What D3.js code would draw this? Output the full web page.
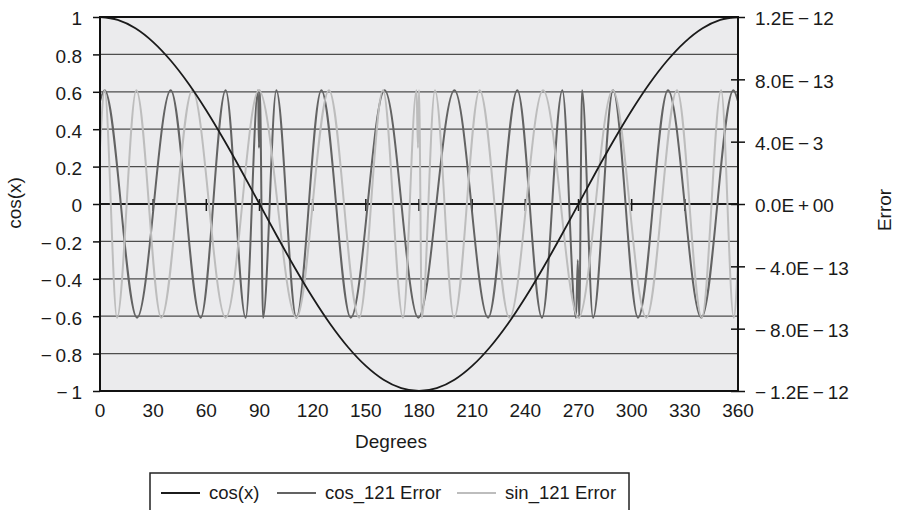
<!DOCTYPE html>
<html>
<head>
<meta charset="utf-8">
<script src="https://cdn.jsdelivr.net/npm/d3@7/dist/d3.min.js"></script>
<style>
  body { margin: 0; background: #fff; }
  svg { display: block; font-family: 'Liberation Sans', Arial, sans-serif; }
</style>
</head>
<body>
<div class="chart-container"></div>
<script>
// cos(x), read every 10 degrees
var cosDeg = [0, 10, 20, 30, 40, 50, 60, 70, 80, 90, 100, 110, 120, 130, 140, 150, 160, 170, 180,
  190, 200, 210, 220, 230, 240, 250, 260, 270, 280, 290, 300, 310, 320, 330, 340, 350, 360];
var cosVal = [1, 0.985, 0.94, 0.866, 0.766, 0.643, 0.5, 0.342, 0.174, 0, -0.174, -0.342, -0.5, -0.643,
  -0.766, -0.866, -0.94, -0.985, -1, -0.985, -0.94, -0.866, -0.766, -0.643, -0.5, -0.342, -0.174, 0,
  0.174, 0.342, 0.5, 0.643, 0.766, 0.866, 0.94, 0.985, 1];

// cos_121 Error, turning points (degrees / value in 1e-13)
var cosErrDeg = [0, 2.6, 20.9, 39.9, 56.8, 70.9, 82.2, 89.2, 89.7, 90.2, 92, 99.5, 110.8, 124.9, 141.5,
  160.6, 179.6, 200, 219, 235.5, 249.4, 260.9, 268.6, 269.6, 270.4, 272, 278.2, 289.5, 303.6, 320.5,
  339.3, 357.4, 360];
var cosErrVal = [6.6, 7.3, -7.3, 7.3, -7.3, 7.3, -7.3, 7.3, 3.6, 7.3, -7.3, 7.3, -7.3, 7.3, -7.3,
  7.3, -7.3, 7.3, -7.3, 7.3, -7.3, 7.3, -7.3, -3.6, -7.3, 7.3, -7.3, 7.3, -7.3, 7.3,
  -7.3, 7.3, 6.6];

// sin_121 Error, turning points (degrees / value in 1e-13)
var sinErrDeg = [0, 2.6, 9.6, 20.5, 34.6, 52.1, 70.9, 89.6, 110.8, 129.2, 146.2, 159.7, 171, 178.6,
  179.4, 180, 181.6, 189, 199.8, 214.2, 231, 250, 270, 289.3, 308.3, 325.6, 339.6, 350.5, 357.6, 360];
var sinErrVal = [3.6, 7.3, -7.3, 7.3, -7.3, 7.3, -7.3, 7.3, -7.3, 7.3, -7.3, 7.3, -7.3, 7.3,
  3.6, 7.3, -7.3, 7.3, -7.3, 7.3, -7.3, 7.3, -7.3, 7.3, -7.3, 7.3, -7.3, 7.3, -7.3, -3.6];

var xTicks = [0, 30, 60, 90, 120, 150, 180, 210, 240, 270, 300, 330, 360];
var yTicks = [-1, -0.8, -0.6, -0.4, -0.2, 0, 0.2, 0.4, 0.6, 0.8, 1];
var yTickLabels = ['\u2212\u20091', '\u2212\u20090.8', '\u2212\u20090.6', '\u2212\u20090.4', '\u2212\u20090.2',
  '0', '0.2', '0.4', '0.6', '0.8', '1'];
var y2Ticks = [-12, -8, -4, 0, 4, 8, 12];
var y2TickLabels = ['\u2212\u20091.2E\u2009\u2212\u200912', '\u2212\u20098.0E\u2009\u2212\u200913',
  '\u2212\u20094.0E\u2009\u2212\u200913', '0.0E\u2009+\u200900', '4.0E\u2009\u2212\u20093',
  '8.0E\u2009\u2212\u200913', '1.2E\u2009\u2212\u200912'];
var seriesNames = ['cos(x)', 'cos_121 Error', 'sin_121 Error'];
var seriesColors = ['#1b1b1b', '#636363', '#bdbdbd'];

var plotLeft = 100,
  plotRight = 738,
  plotTop = 17,
  plotBottom = 391;

var svg = d3
  .select('.chart-container')
  .append('svg')
  .attr('width', 899)
  .attr('height', 510);

var x = d3.scaleLinear().domain([0, 360]).range([plotLeft, plotRight]);
var y = d3.scaleLinear().domain([-1, 1]).range([plotBottom, plotTop]);
var y2 = d3.scaleLinear().domain([-12, 12]).range([plotBottom, plotTop]);

// plot background
svg
  .append('rect')
  .attr('x', plotLeft)
  .attr('y', plotTop)
  .attr('width', plotRight - plotLeft)
  .attr('height', plotBottom - plotTop)
  .attr('fill', '#ebebed');

// gridlines
svg
  .append('g')
  .selectAll('line')
  .data(yTicks)
  .enter()
  .append('line')
  .attr('x1', plotLeft)
  .attr('x2', plotRight)
  .attr('y1', function (d) { return y(d); })
  .attr('y2', function (d) { return y(d); })
  .attr('stroke', '#4d4d4d')
  .attr('stroke-width', 1.3);

// category axis sits on zero
svg
  .append('line')
  .attr('x1', plotLeft)
  .attr('x2', plotRight)
  .attr('y1', y(0))
  .attr('y2', y(0))
  .attr('stroke', '#1a1a1a')
  .attr('stroke-width', 2);

svg
  .append('g')
  .selectAll('line')
  .data(xTicks)
  .enter()
  .append('line')
  .attr('x1', function (d) { return x(d); })
  .attr('x2', function (d) { return x(d); })
  .attr('y1', y(0) - 5)
  .attr('y2', y(0) + 7)
  .attr('stroke', '#1a1a1a')
  .attr('stroke-width', 1.5);

// series
var cosLine = d3
  .line()
  .x(function (d) { return x(d[0]); })
  .y(function (d) { return y(d[1]); })
  .curve(d3.curveMonotoneX);

var errLine = d3
  .line()
  .x(function (d) { return x(d[0]); })
  .y(function (d) { return y2(d[1]); })
  .curve(d3.curveMonotoneX);

svg
  .append('path')
  .datum(d3.zip(cosErrDeg, cosErrVal))
  .attr('d', errLine)
  .attr('fill', 'none')
  .attr('stroke', seriesColors[1])
  .attr('stroke-width', 2);

svg
  .append('path')
  .datum(d3.zip(sinErrDeg, sinErrVal))
  .attr('d', errLine)
  .attr('fill', 'none')
  .attr('stroke', seriesColors[2])
  .attr('stroke-width', 2);

svg
  .append('path')
  .datum(d3.zip(cosDeg, cosVal))
  .attr('d', cosLine)
  .attr('fill', 'none')
  .attr('stroke', seriesColors[0])
  .attr('stroke-width', 1.8);

// frame
svg
  .append('rect')
  .attr('x', plotLeft)
  .attr('y', plotTop)
  .attr('width', plotRight - plotLeft)
  .attr('height', plotBottom - plotTop)
  .attr('fill', 'none')
  .attr('stroke', '#111')
  .attr('stroke-width', 2);

// left axis
var yAxis = d3
  .axisLeft(y)
  .tickValues(yTicks)
  .tickSize(7)
  .tickPadding(11)
  .tickFormat(function (d, i) { return yTickLabels[i]; });

var gy = svg.append('g').attr('transform', 'translate(' + plotLeft + ',0)').call(yAxis);
gy.select('.domain').remove();
gy.selectAll('line').attr('stroke', '#111').attr('stroke-width', 1.5);
gy.selectAll('text')
  .attr('fill', '#1a1a1a')
  .attr('font-size', 19)
  .attr('dy', '0.42em');

// right axis
var y2Axis = d3
  .axisRight(y2)
  .tickValues(y2Ticks)
  .tickSize(7)
  .tickPadding(10)
  .tickFormat(function (d, i) { return y2TickLabels[i]; });

var gy2 = svg.append('g').attr('transform', 'translate(' + plotRight + ',0)').call(y2Axis);
gy2.select('.domain').remove();
gy2.selectAll('line').attr('x1', -7).attr('stroke', '#111').attr('stroke-width', 1.5);
gy2.selectAll('text')
  .attr('fill', '#1a1a1a')
  .attr('font-size', 19)
  .attr('dy', '0.42em');

// x labels along the bottom
svg
  .append('g')
  .selectAll('text')
  .data(xTicks)
  .enter()
  .append('text')
  .attr('x', function (d) { return x(d); })
  .attr('y', 417)
  .attr('text-anchor', 'middle')
  .attr('font-size', 19)
  .attr('fill', '#1a1a1a')
  .text(function (d) { return d; });

// titles
svg
  .append('text')
  .attr('x', 391)
  .attr('y', 448)
  .attr('text-anchor', 'middle')
  .attr('font-size', 19)
  .attr('fill', '#1a1a1a')
  .text('Degrees');

svg
  .append('text')
  .attr('transform', 'translate(21,203) rotate(-90)')
  .attr('text-anchor', 'middle')
  .attr('font-size', 19)
  .attr('fill', '#1a1a1a')
  .text('cos(x)');

svg
  .append('text')
  .attr('transform', 'translate(891,210) rotate(-90)')
  .attr('text-anchor', 'middle')
  .attr('font-size', 19)
  .attr('fill', '#1a1a1a')
  .text('Error');

// legend
var legend = svg.append('g');
legend
  .append('rect')
  .attr('x', 150)
  .attr('y', 473)
  .attr('width', 479)
  .attr('height', 60)
  .attr('fill', '#fff')
  .attr('stroke', '#222')
  .attr('stroke-width', 1.5);

var legendX = [161, 277, 457];
var item = legend
  .selectAll('.item')
  .data(seriesNames)
  .enter()
  .append('g')
  .attr('class', 'item')
  .attr('transform', function (d, i) { return 'translate(' + legendX[i] + ',0)'; });

item
  .append('line')
  .attr('x1', 0)
  .attr('x2', 39)
  .attr('y1', 493)
  .attr('y2', 493)
  .attr('stroke', function (d, i) { return seriesColors[i]; })
  .attr('stroke-width', 2);

item
  .append('text')
  .attr('x', 48)
  .attr('y', 499)
  .attr('font-size', 18.5)
  .attr('fill', '#1a1a1a')
  .text(function (d) { return d; });
</script>
</body>
</html>
